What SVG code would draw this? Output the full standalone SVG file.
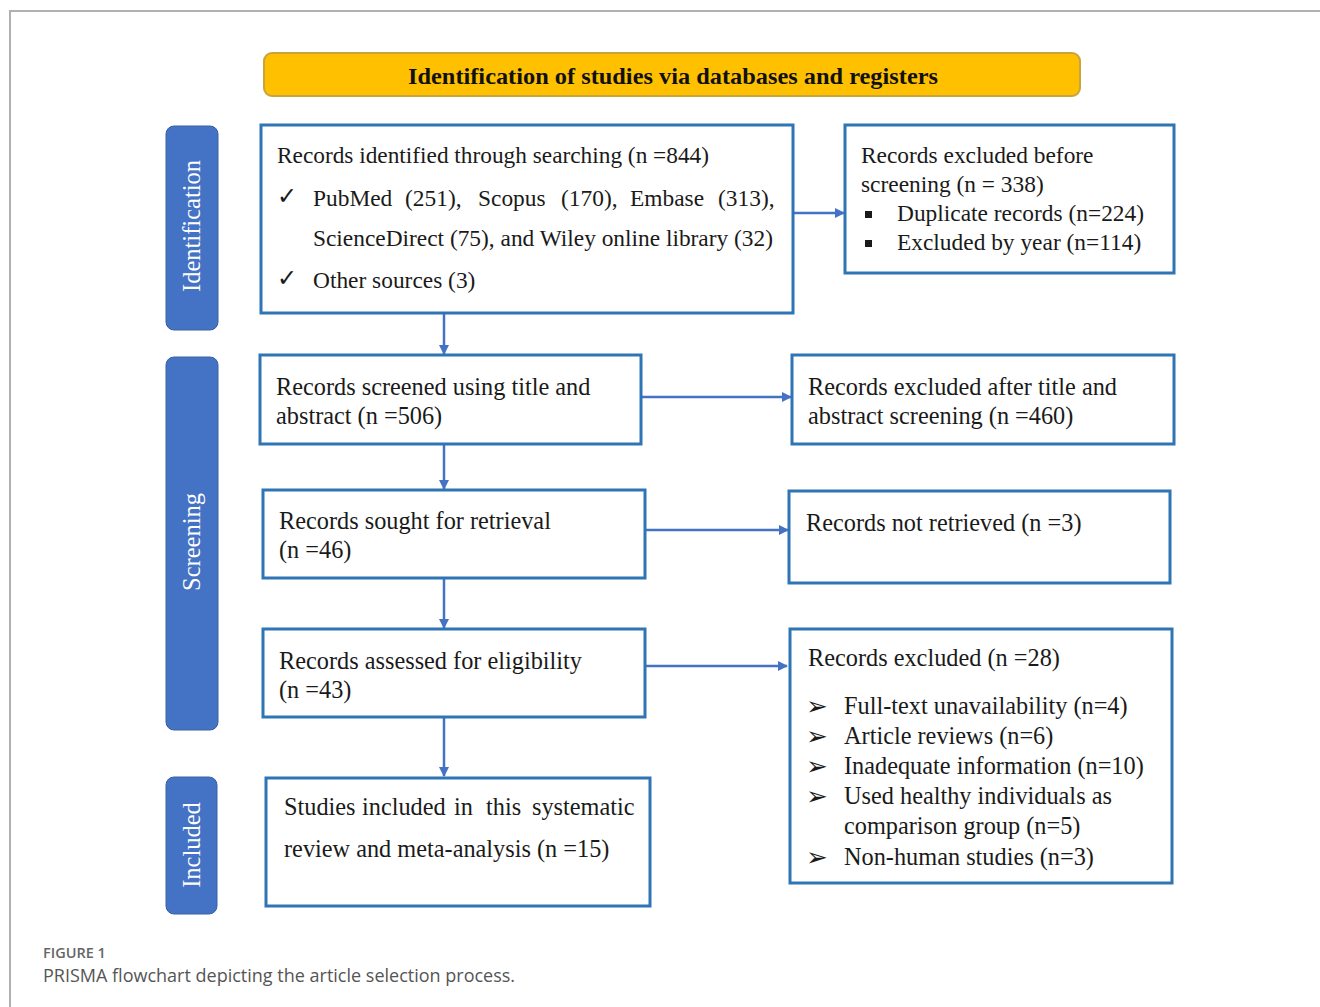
<svg xmlns="http://www.w3.org/2000/svg" width="1320" height="1007" viewBox="0 0 1320 1007">
<defs>
<style>
.box{fill:#fff;stroke:#2E75B6;stroke-width:3}
.bar{fill:#4472C4;stroke:#3A62A8;stroke-width:1}
.t{font-family:"Liberation Serif","Times New Roman",serif;font-size:24.3px;fill:#1a1a1a}
.s{font-size:23.4px}
.sym{font-family:"DejaVu Sans",sans-serif;font-size:24px;fill:#1a1a1a}
.arr{font-family:"DejaVu Sans",sans-serif;font-size:26px;fill:#1a1a1a}
.side{font-family:"Liberation Serif","Times New Roman",serif;font-size:24.5px;fill:#fff;text-anchor:middle}
.con{stroke:#4472C4;stroke-width:2.5;fill:none;marker-end:url(#ah)}
</style>
<marker id="ah" viewBox="0 0 10 10" refX="9" refY="5" markerWidth="4" markerHeight="4" orient="auto" markerUnits="strokeWidth">
<path d="M0,0 L10,5 L0,10 z" fill="#4472C4"/>
</marker>
</defs>
<rect x="0" y="0" width="1320" height="1007" fill="#fff"/>
<path d="M10,1007 V11 H1320" fill="none" stroke="#b0b0b0" stroke-width="2"/>

<g id="header">
<rect x="264" y="53" width="816" height="43" rx="8" fill="#FFC000" stroke="#C9A43A" stroke-width="2"/>
<text x="673" y="84" text-anchor="middle" font-family="Liberation Serif, serif" font-weight="bold" font-size="24" textLength="530" lengthAdjust="spacingAndGlyphs" fill="#111">Identification of studies via databases and registers</text>
</g>

<g id="bar-identification">
<rect class="bar" x="166" y="126" width="52" height="204" rx="8"/>
<text class="side" transform="translate(200,226) rotate(-90)">Identification</text>
</g>
<g id="bar-screening">
<rect class="bar" x="166" y="357" width="52" height="373" rx="8"/>
<text class="side" transform="translate(200,542) rotate(-90)">Screening</text>
</g>
<g id="bar-included">
<rect class="bar" x="166" y="777" width="51" height="137" rx="8"/>
<text class="side" transform="translate(200,845) rotate(-90)">Included</text>
</g>

<g id="connectors">
<path class="con" d="M444,313 V354"/>
<path class="con" d="M444,444 V489"/>
<path class="con" d="M444,578 V628"/>
<path class="con" d="M444,717 V776"/>
<path class="con" d="M793,213 H844"/>
<path class="con" d="M641,397 H791"/>
<path class="con" d="M645,530 H788"/>
<path class="con" d="M645,666 H787"/>
</g>

<g id="n-identified">
<rect class="box" x="261" y="125" width="532" height="188"/>
<text class="t s" x="277" y="163" textLength="432" lengthAdjust="spacingAndGlyphs">Records identified through searching (n =844)</text>
<text class="sym" x="277" y="204">✓</text>
<text class="t s" y="206"><tspan x="313">PubMed</tspan><tspan x="405">(251),</tspan><tspan x="478">Scopus</tspan><tspan x="561">(170),</tspan><tspan x="630">Embase</tspan><tspan x="718">(313),</tspan></text>
<text class="t s" x="313" y="246" textLength="460" lengthAdjust="spacingAndGlyphs">ScienceDirect (75), and Wiley online library (32)</text>
<text class="sym" x="277" y="286">✓</text>
<text class="t s" x="313" y="288">Other sources (3)</text>
</g>

<g id="n-excluded-before">
<rect class="box" x="845" y="125" width="329" height="148"/>
<text class="t s" x="861" y="163">Records excluded before</text>
<text class="t s" x="861" y="192">screening (n = 338)</text>
<rect x="865" y="211" width="7" height="7" fill="#1a1a1a"/>
<text class="t s" x="897" y="221">Duplicate records (n=224)</text>
<rect x="865" y="240" width="7" height="7" fill="#1a1a1a"/>
<text class="t s" x="897" y="250">Excluded by year (n=114)</text>
</g>

<g id="n-screened">
<rect class="box" x="260" y="355" width="381" height="89"/>
<text class="t" x="276" y="395">Records screened using title and</text>
<text class="t" x="276" y="424">abstract (n =506)</text>
</g>

<g id="n-excluded-title">
<rect class="box" x="792" y="355" width="382" height="89"/>
<text class="t" x="808" y="395">Records excluded after title and</text>
<text class="t" x="808" y="424">abstract screening (n =460)</text>
</g>

<g id="n-sought">
<rect class="box" x="263" y="490" width="382" height="88"/>
<text class="t" x="279" y="529">Records sought for retrieval</text>
<text class="t" x="279" y="558">(n =46)</text>
</g>

<g id="n-not-retrieved">
<rect class="box" x="789" y="491" width="381" height="92"/>
<text class="t" x="806" y="531">Records not retrieved (n =3)</text>
</g>

<g id="n-assessed">
<rect class="box" x="263" y="629" width="382" height="88"/>
<text class="t" x="279" y="669">Records assessed for eligibility</text>
<text class="t" x="279" y="698">(n =43)</text>
</g>

<g id="n-excluded-28">
<rect class="box" x="790" y="629" width="382" height="254"/>
<text class="t" x="808" y="666">Records excluded (n =28)</text>
<text class="arr" x="806" y="715">➢</text>
<text class="t" x="844" y="714">Full-text unavailability (n=4)</text>
<text class="arr" x="806" y="745">➢</text>
<text class="t" x="844" y="744">Article reviews (n=6)</text>
<text class="arr" x="806" y="775">➢</text>
<text class="t" x="844" y="774">Inadequate information (n=10)</text>
<text class="arr" x="806" y="805">➢</text>
<text class="t" x="844" y="804">Used healthy individuals as</text>
<text class="t" x="844" y="834">comparison group (n=5)</text>
<text class="arr" x="806" y="866">➢</text>
<text class="t" x="844" y="865">Non-human studies (n=3)</text>
</g>

<g id="n-included">
<rect class="box" x="266" y="778" width="384" height="128"/>
<text class="t" y="815"><tspan x="284">Studies</tspan><tspan x="362">included</tspan><tspan x="454">in</tspan><tspan x="486">this</tspan><tspan x="532">systematic</tspan></text>
<text class="t" x="284" y="857">review and meta-analysis (n =15)</text>
</g>

<g id="caption">
<text x="43" y="958" font-family="Open Sans, sans-serif" font-size="14.5" font-weight="600" fill="#666">FIGURE 1</text>
<text x="43" y="982" font-family="Open Sans, sans-serif" font-size="18" fill="#555">PRISMA flowchart depicting the article selection process.</text>
</g>
</svg>
